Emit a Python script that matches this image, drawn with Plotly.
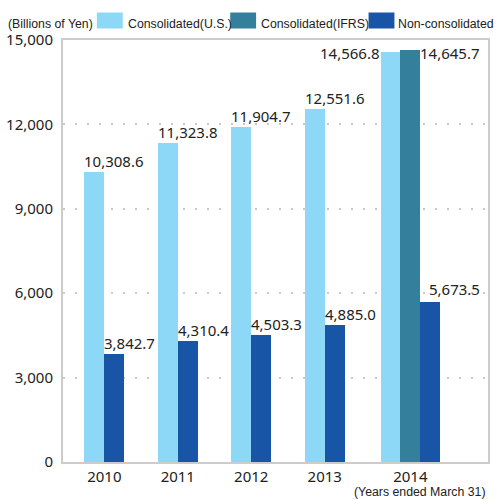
import plotly.graph_objects as go

# ---------------- data ----------------
years = ["2010", "2011", "2012", "2013", "2014"]
consolidated_us = [10308.6, 11323.8, 11904.7, 12551.6, 14566.8]
consolidated_ifrs = [None, None, None, None, 14645.7]
non_consolidated = [3842.7, 4310.4, 4503.3, 4885.0, 5673.5]
y_tick_values = [0, 3000, 6000, 9000, 12000, 15000]
series_names = ["Consolidated(U.S.)", "Consolidated(IFRS)", "Non-consolidated"]
unit_label = "(Billions of Yen)"
period_label = "(Years ended March 31)"

# ---------------- style / layout ----------------
W, H = 496, 499
ML, MR, MT, MB = 63, 6, 40, 37
PW, PH = W - ML - MR, H - MT - MB
UNIT = 73.83                      # px per category step
group_pos = [0, 1, 2, 3, 4.165]   # group centres (axis units)
BW = 20 / UNIT                    # bar width (axis units)
colors = ["#8DD8F7", "#34809C", "#1855A6"]
NUM_FONT = "Noto Sans, Liberation Sans, Arial, sans-serif"
NARROW_FONT = "Liberation Sans, Arial, sans-serif"
NARROW_SIZE = 12.3
TXT = "#222222"

x_range = [-41.5 / UNIT, (PW - 41.5) / UNIT]


def px2paper(px, py):
    return (px - ML) / PW, (MT + PH - py) / PH


all_series = [consolidated_us, consolidated_ifrs, non_consolidated]

# compute bar positions per series
xs = [[], [], []]
ys = [[], [], []]
for i, c in enumerate(group_pos):
    present = [s for s in range(3) if all_series[s][i] is not None]
    n = len(present)
    for k, s in enumerate(present):
        xs[s].append(c + (k - (n - 1) / 2) * BW)
        ys[s].append(all_series[s][i])

fig = go.Figure()
for s in range(3):
    fig.add_trace(go.Bar(
        x=xs[s], y=ys[s], width=BW, name=series_names[s],
        marker=dict(color=colors[s], line=dict(width=0)),
        showlegend=False,
    ))

annotations = []
lab_font = dict(family=NUM_FONT, size=15, color=TXT)
for i, c in enumerate(group_pos):
    present = [s for s in range(3) if all_series[s][i] is not None]
    n = len(present)
    for k, s in enumerate(present):
        xc = c + (k - (n - 1) / 2) * BW
        v = all_series[s][i]
        txt = f"{v:,.1f}"
        if n == 3 and s == 0:
            annotations.append(dict(x=xc - BW / 2, y=v, text=txt, showarrow=False,
                                    xanchor="right", yanchor="middle", yshift=-1, xshift=1,
                                    font=lab_font))
        elif n == 3 and s == 1:
            annotations.append(dict(x=xc + BW / 2, y=v, text=txt, showarrow=False,
                                    xanchor="left", yanchor="middle", yshift=-3, xshift=-2,
                                    font=lab_font))
        elif n == 3 and s == 2:
            annotations.append(dict(x=xc - BW / 2, y=v, text=txt, showarrow=False,
                                    xanchor="left", yanchor="bottom", xshift=7, yshift=1,
                                    font=lab_font))
        else:
            annotations.append(dict(x=xc - BW / 2, y=v, text=txt, showarrow=False,
                                    xanchor="left", yanchor="bottom", xshift=-2, yshift=-1,
                                    font=lab_font))

# legend (manual)
shapes = []
legend_items = [(97, 123, 128), (231, 257, 262), (370, 396, 400)]
for s, (x0, x1, tx) in enumerate(legend_items):
    p0 = px2paper(x0, 28.5)
    p1 = px2paper(x1, 12.5)
    shapes.append(dict(type="rect", xref="paper", yref="paper",
                       x0=p0[0], x1=p1[0], y0=p0[1], y1=p1[1],
                       fillcolor=colors[s], line=dict(width=0)))
    pt = px2paper(tx, 23.5)
    annotations.append(dict(xref="paper", yref="paper", x=pt[0], y=pt[1], text=series_names[s],
                            showarrow=False, xanchor="left", yanchor="middle", xshift=-2,
                            font=dict(family=NARROW_FONT, size=NARROW_SIZE, color=TXT)))

pu = px2paper(8, 23.5)
annotations.append(dict(xref="paper", yref="paper", x=pu[0], y=pu[1], text=unit_label,
                        showarrow=False, xanchor="left", yanchor="middle", xshift=-2,
                        font=dict(family=NARROW_FONT, size=NARROW_SIZE, color=TXT)))
pp = px2paper(487, 492)
annotations.append(dict(xref="paper", yref="paper", x=pp[0], y=pp[1], text=period_label,
                        showarrow=False, xanchor="right", yanchor="middle", xshift=2,
                        font=dict(family=NARROW_FONT, size=NARROW_SIZE, color=TXT)))

fig.update_layout(
    width=W, height=H,
    margin=dict(l=ML, r=MR, t=MT, b=MB, pad=0),
    paper_bgcolor="white", plot_bgcolor="white",
    barmode="overlay",
    bargap=0,
    showlegend=False,
    shapes=shapes,
    annotations=annotations,
    xaxis=dict(
        range=x_range, tickmode="array", tickvals=group_pos, ticktext=years,
        showgrid=False, zeroline=False, showline=True, mirror=True,
        linecolor="#cccccc", linewidth=2, ticks="",
        tickfont=dict(family=NUM_FONT, size=15, color=TXT),
    ),
    yaxis=dict(
        range=[0, 15000], tickmode="array", tickvals=y_tick_values,
        tickformat=",", showgrid=True, gridcolor="#c8c8c8", gridwidth=2,
        griddash="2px,10px", zeroline=False, showline=True, mirror=True,
        linecolor="#cccccc", linewidth=2, ticks="", ticklabelstandoff=5,
        tickfont=dict(family=NUM_FONT, size=15, color=TXT),
    ),
)

fig.write_html("out.html", config={"displayModeBar": False},
               post_script="document.body.style.margin='0';")
